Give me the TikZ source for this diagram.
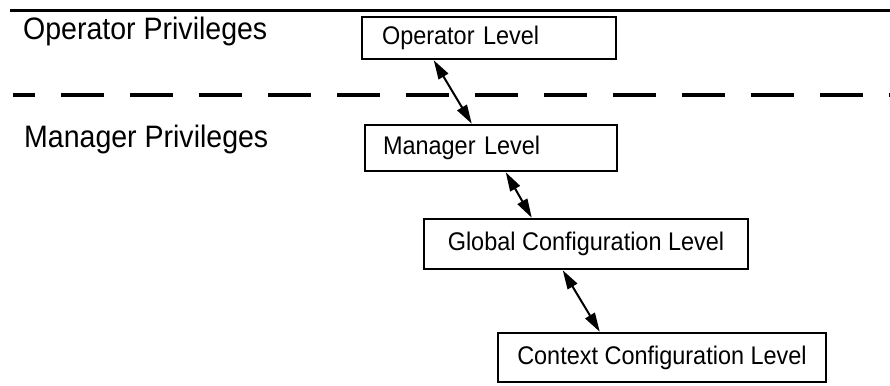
\documentclass[tikz,border=0pt]{standalone}
\usepackage{fontspec}
\setmainfont[FakeStretch=0.92]{Liberation Sans}
\usetikzlibrary{arrows.meta,calc}
\tikzset{
  lvlbox/.style={draw=black, line width=2.5pt, rectangle, inner ysep=0pt, font=\fontsize{25.5}{30}\selectfont},
  privlabel/.style={anchor=base west, inner sep=0pt, font=\fontsize{31}{36}\selectfont},
  dbl/.style={line width=2pt, {Triangle[length=19pt,width=11pt]}-{Triangle[length=19pt,width=11pt]}}
}
\begin{document}
\begin{tikzpicture}[x=1pt,y=-1pt]
\useasboundingbox (0,0) rectangle (890,385);
% separator lines
\coordinate (topL) at (10,10.5);
\coordinate (topR) at (890,10.5);
\draw[line width=3.2pt] (topL) -- (topR);
\coordinate (dashL) at (13,95);
\coordinate (dashR) at (890,95);
\draw[line width=3.2pt, dash pattern=on 43pt off 26pt, dash phase=21pt] (dashL) -- (dashR);
% privilege labels
\node[privlabel] (oppriv) at (23,40) {Operator Privileges};
\node[privlabel] (mgpriv) at (24,147) {Manager Privileges};
% level boxes
\node[lvlbox, inner xsep=20pt, text width=214pt, align=left, minimum height=42pt] (op) at (489,38) {Operator Level};
\node[lvlbox, inner xsep=18pt, text width=216pt, align=left, minimum height=46pt] (mg) at (491,148) {Manager Level};
\node[lvlbox, minimum width=324pt, minimum height=50pt] (gl) at (586,244) {Global Configuration Level};
\node[lvlbox, minimum width=328pt, minimum height=49pt] (cx) at (662,357.5) {Context Configuration Level};
% connectors
\draw[dbl] ($(op.south west)+(73,0)$) -- ($(mg.north west)+(108,0)$);
\draw[dbl] ($(mg.south west)+(142,0)$) -- ($(gl.north west)+(109,0)$);
\draw[dbl] ($(gl.south west)+(140,0)$) -- ($(cx.north west)+(103,0)$);
\end{tikzpicture}
\end{document}
